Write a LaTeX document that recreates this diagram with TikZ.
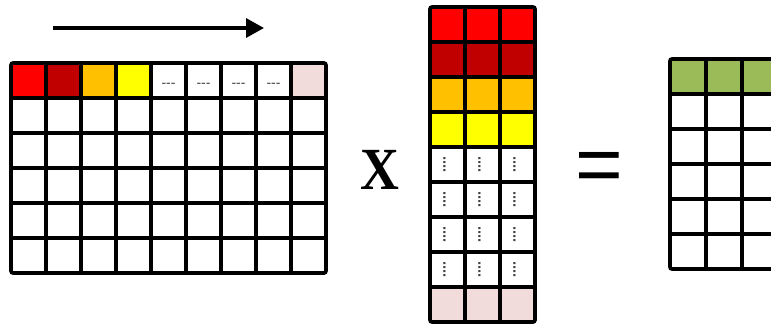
\documentclass[tikz,border=0pt]{standalone}
\usepackage{fontspec}
\setmainfont{Liberation Serif}
\newfontfamily\sansf{Liberation Sans}
\usetikzlibrary{arrows.meta}
\definecolor{cred}{HTML}{FF0000}
\definecolor{cdred}{HTML}{C00000}
\definecolor{corange}{HTML}{FFC000}
\definecolor{cyellow}{HTML}{FFFF00}
\definecolor{cpink}{HTML}{F2DCDB}
\definecolor{cgreen}{HTML}{9BBB59}
\definecolor{cdots}{HTML}{404040}
\begin{document}
\begin{tikzpicture}[x=1bp,y=-1bp,
  gridline/.style={line width=3.4bp, black},
  border/.style={line width=3.6bp, black, rounded corners=2bp},
  hdots/.style={inner sep=0pt, text=cdots, font=\sansf\fontsize{14}{14}\selectfont},
  vdotsn/.style={inner sep=0pt, rotate=-90, text=cdots, font=\sansf\bfseries\fontsize{15}{15}\selectfont},
  arrowline/.style={line width=3.4bp, -{Triangle[length=18bp,width=19bp]}}]
\useasboundingbox (0,0) rectangle (771,329);
\clip (0,0) rectangle (771,329);
% ---------- left matrix (9 x 6), origin (11,63), cell 35
\fill[cred]    (11,63) rectangle ++(35,35);
\fill[cdred]   (46,63) rectangle ++(35,35);
\fill[corange] (81,63) rectangle ++(35,35);
\fill[cyellow] (116,63) rectangle ++(35,35);
\fill[cpink]   (291,63) rectangle ++(35,35);
\foreach \i in {1,...,8} \draw[gridline] (11+35*\i,63) -- (11+35*\i,273);
\foreach \j in {1,...,5} \draw[gridline] (11,63+35*\j) -- (326,63+35*\j);
\draw[border] (11,63) rectangle (326,273);
\foreach \c in {4,...,7} \node[hdots] (ld\c) at (11+35*\c+17.5,85) {-{}-{}-};
% ---------- arrow
\coordinate (as) at (53,28);
\coordinate (ae) at (264,28);
\draw[arrowline] (as) -- (ae);
% ---------- times sign
\node[inner sep=0pt, xscale=0.9] (times) at (380,170) {\fontsize{60}{60}\selectfont\bfseries X};
% ---------- middle matrix (3 x 9), origin (430,7)
\foreach \col/\r in {cred/0,cdred/1,corange/2,cyellow/3,cpink/8}
  \fill[\col] (430,7+35*\r) rectangle ++(105,35);
\foreach \i in {1,2} \draw[gridline] (430+35*\i,7) -- (430+35*\i,322);
\foreach \j in {1,...,8} \draw[gridline] (430,7+35*\j) -- (535,7+35*\j);
\draw[border] (430,7) rectangle (535,322);
\foreach \c in {0,1,2} \foreach \r in {4,...,7}
  \node[vdotsn] (md-\c-\r) at (430+35*\c+14.5,7+35*\r+17.5) {....};
% ---------- equals sign
\node[inner sep=0pt] (eq) at (599,172) {\sansf\fontsize{82}{82}\selectfont =};
% ---------- right matrix, origin (670,59)
\fill[cgreen] (670,59) rectangle (830,94);
\foreach \i in {1,...,4} \draw[gridline] (670+36*\i,59) -- (670+36*\i,269);
\foreach \j in {1,...,5} \draw[gridline] (670,59+35*\j) -- (830,59+35*\j);
\draw[border] (670,59) rectangle (830,269);
\end{tikzpicture}
\end{document}
